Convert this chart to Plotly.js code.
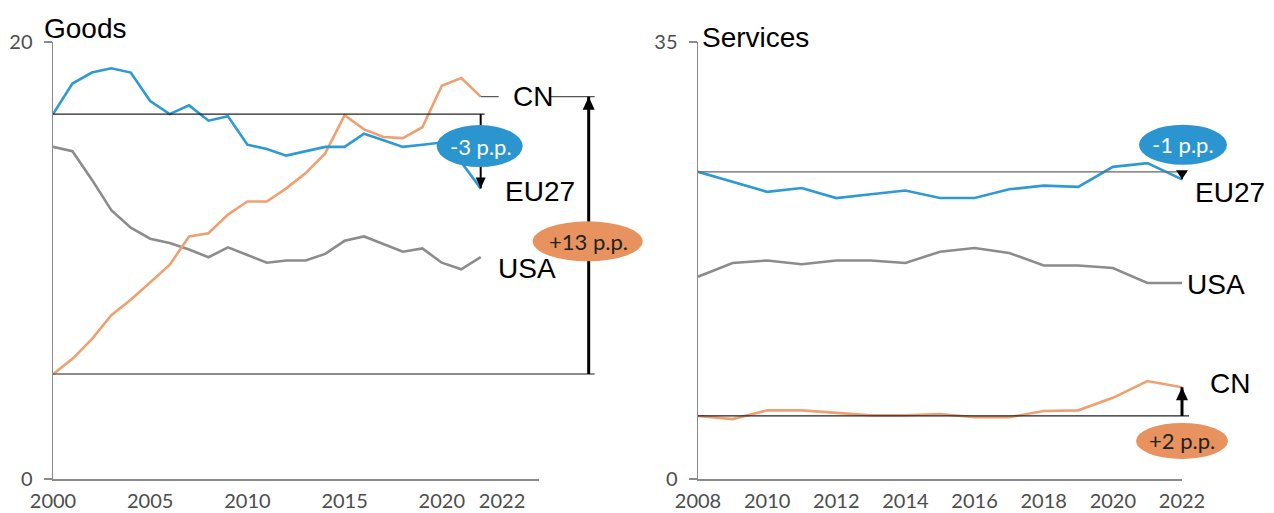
<!DOCTYPE html>
<html><head><meta charset="utf-8">
<script src="https://cdn.plot.ly/plotly-3.0.1.min.js"></script>
<style>html,body{margin:0;padding:0;background:#fff}#chart{width:1274px;height:513px}</style>
</head><body><div id="chart"></div>
<script>
// ---------- data ----------
const goodsYears = [2000,2001,2002,2003,2004,2005,2006,2007,2008,2009,2010,2011,2012,2013,2014,2015,2016,2017,2018,2019,2020,2021,2022];
const goodsEU27  = [16.7,18.1,18.6,18.8,18.6,17.3,16.7,17.1,16.4,16.6,15.3,15.1,14.8,15.0,15.2,15.2,15.8,15.5,15.2,15.3,15.4,14.5,13.3];
const goodsCN    = [4.8,5.5,6.4,7.5,8.2,9.0,9.8,11.1,11.25,12.1,12.7,12.7,13.3,14.0,14.9,16.65,16.0,15.65,15.6,16.1,18.0,18.35,17.5];
const goodsUSA   = [15.2,15.0,13.7,12.3,11.5,11.0,10.8,10.5,10.15,10.6,10.25,9.9,10.0,10.0,10.3,10.9,11.1,10.75,10.4,10.55,9.9,9.6,10.15];

const servYears  = [2008,2009,2010,2011,2012,2013,2014,2015,2016,2017,2018,2019,2020,2021,2022];
const servEU27   = [24.6,23.8,23.0,23.3,22.5,22.8,23.1,22.5,22.5,23.2,23.5,23.4,25.0,25.3,24.0];
const servCN     = [5.05,4.8,5.5,5.5,5.3,5.1,5.1,5.2,4.95,4.95,5.45,5.5,6.5,7.85,7.35];
const servUSA    = [16.2,17.3,17.5,17.2,17.5,17.5,17.3,18.2,18.5,18.1,17.1,17.1,16.9,15.7,15.7];

const goodsTickVals = [2000,2005,2010,2015,2020,2023.1];
const goodsTickText = ['2000','2005','2010','2015','2020','2022'];
const servTickVals  = [2008,2010,2012,2014,2016,2018,2020,2022];
const servTickText  = ['2008','2010','2012','2014','2016','2018','2020','2022'];

const panelTitles = ['Goods','Services'];
const seriesNames = ['EU27','CN','USA'];
const changeLabels = ['-3 p.p.','+13 p.p.','-1 p.p.','+2 p.p.'];

// ---------- styles ----------
const W = 1274, H = 513;
const C_EU = '#2E9AD4', C_CN = '#EFA070', C_US = '#8C8C8C';
const E_EU = '#2B95D0', E_CN = '#E8925F';
const dom1 = [53/W, 539/W], dom2 = [698/W, 1182/W];
const ydom = [(H-479)/H, (H-42)/H];
const range1 = [2000, 2025], range2 = [2008, 2022];
function xp(dom, rng, v){ return dom[0] + (v - rng[0])/(rng[1]-rng[0])*(dom[1]-dom[0]); }
const xp1 = v => xp(dom1, range1, v), xp2 = v => xp(dom2, range2, v);
const last = a => a[a.length-1];

function tr(x, y, color, xa, ya){
  return {x, y, type:'scatter', mode:'lines', line:{color, width:2.6}, xaxis:xa, yaxis:ya, hoverinfo:'skip', showlegend:false};
}
const data = [
  tr(goodsYears, goodsUSA, C_US, 'x', 'y'),
  tr(goodsYears, goodsCN, C_CN, 'x', 'y'),
  tr(goodsYears, goodsEU27, C_EU, 'x', 'y'),
  tr(servYears, servUSA, C_US, 'x2', 'y2'),
  tr(servYears, servCN, C_CN, 'x2', 'y2'),
  tr(servYears, servEU27, C_EU, 'x2', 'y2'),
];

function hline(yref, y, x0, x1, color, width){
  return {type:'line', xref:'paper', yref, x0, x1, y0:y, y1:y, line:{color, width}, layer:'above'};
}
function arrow(yref, x, yFrom, yTo, width, hw, hl){
  const up = yTo > yFrom;
  return [
    {type:'line', xref:'paper', yref, x0:x, x1:x, y0:yFrom, y1:yTo, line:{color:'#000', width}, layer:'above'},
    {type:'path', xref:'paper', yref, xsizemode:'pixel', ysizemode:'pixel', xanchor:x, yanchor:yTo,
     path: up ? `M0,0 L${-hw},${-hl} L${hw},${-hl} Z` : `M0,0 L${-hw},${hl} L${hw},${hl} Z`, fillcolor:'#000', line:{width:0}, layer:'above'}
  ];
}
function ellipse(yref, x, y, yshift, w, h, color){
  return {type:'circle', xref:'paper', yref, xsizemode:'pixel', ysizemode:'pixel', xanchor:x, yanchor:y,
    x0:-w/2, x1:w/2, y0:yshift-h/2, y1:yshift+h/2, fillcolor:color, line:{width:0}, layer:'above'};
}

const gEU0 = goodsEU27[0], gEUe = last(goodsEU27), gCN0 = goodsCN[0], gCNe = last(goodsCN);
const sEU0 = servEU27[0], sEUe = last(servEU27), sCN0 = servCN[0], sCNe = last(servCN);
const gEnd = xp1(last(goodsYears)), sEnd = xp2(last(servYears));
const gArrowX = gEnd + 108/W;

const shapes = [
  // goods
  hline('y', gEU0, dom1[0], gEnd + 4/W, '#222', 1.2),
  hline('y', gCN0, dom1[0], gArrowX + 6/W, '#666', 1.5),
  hline('y', gCNe, gEnd, gEnd + 18/W, '#555', 1.2),
  hline('y', gCNe, gEnd + 70/W, gArrowX + 6/W, '#555', 1.2),
  ...arrow('y', gEnd, gEU0, gEUe, 2, 5, 11),
  ...arrow('y', gArrowX, gCN0, gCNe, 3, 6, 13),
  ellipse('y', gEnd - 1/W, gEU0, -32, 86, 42, E_EU),
  ellipse('y', gArrowX - 1/W, (gCN0+gCNe)/2, -6, 110, 40, E_CN),
  // services
  hline('y2', sEU0, dom2[0], sEnd + 5/W, '#666', 1.3),
  hline('y2', sCN0, dom2[0], sEnd + 7/W, '#222', 1.2),
  ...arrow('y2', sEnd, sEU0, sEUe, 2, 6, 9),
  ...arrow('y2', sEnd, sCN0, sCNe, 3, 6, 13),
  ellipse('y2', sEnd + 1/W, sEU0, 27, 88, 40, E_EU),
  ellipse('y2', sEnd, sCN0, -25, 92, 36, E_CN),
];

const lblFont = {family:'Liberation Sans, Arial, sans-serif', size:28, color:'#000'};
const ppFont = (c) => ({family:'Lato, sans-serif', size:22, color:c});
function lab(text, x, yref, y, xshift, yshift){
  return {text, xref:'paper', yref, x, y, xanchor:'left', yanchor:'middle', xshift, yshift, showarrow:false, font:lblFont};
}
function pp(text, x, yref, y, yshift, color){
  return {text, xref:'paper', yref, x, y, xanchor:'center', yanchor:'middle', yshift, showarrow:false, font:ppFont(color)};
}
const annotations = [
  {text:panelTitles[0], xref:'paper', yref:'paper', x:42/W, y:(H-28)/H, xanchor:'left', yanchor:'middle', showarrow:false, font:lblFont},
  {text:panelTitles[1], xref:'paper', yref:'paper', x:700/W, y:(H-37)/H, xanchor:'left', yanchor:'middle', showarrow:false, font:lblFont},
  lab(seriesNames[1], gEnd, 'y', gCNe, 30, 0),
  lab(seriesNames[0], gEnd, 'y', gEUe, 22, -3),
  lab(seriesNames[2], gEnd, 'y', last(goodsUSA), 15, -11),
  lab(seriesNames[0], sEnd, 'y2', sEUe, 11, -13),
  lab(seriesNames[2], sEnd, 'y2', last(servUSA), 3, -2),
  lab(seriesNames[1], sEnd, 'y2', sCNe, 26, 4),
  pp(changeLabels[0], gEnd, 'y', gEU0, -32, '#fff'),
  pp(changeLabels[1], gArrowX, 'y', (gCN0+gCNe)/2, -6, '#222'),
  pp(changeLabels[2], sEnd + 1/W, 'y2', sEU0, 27, '#fff'),
  pp(changeLabels[3], sEnd, 'y2', sCN0, -25, '#222'),
];

const tickFont = {family:'Lato, sans-serif', size:20, color:'#4d4d4d'};
const xBase = {showline:true, linecolor:'#8a8a8a', linewidth:1.5, ticks:'', showgrid:false, zeroline:false, tickfont:tickFont, fixedrange:true, ticklabelstandoff:3};
const yBase = {showline:true, linecolor:'#8a8a8a', linewidth:1.5, ticks:'outside', ticklen:8, tickcolor:'#8a8a8a', tickwidth:1.5, showgrid:false, zeroline:false, tickfont:tickFont, fixedrange:true, domain:ydom, ticklabelstandoff:7};

const layout = {
  width:W, height:H, margin:{l:0,r:0,t:0,b:0}, paper_bgcolor:'#fff', plot_bgcolor:'rgba(0,0,0,0)',
  xaxis: Object.assign({}, xBase, {domain:dom1, range:range1, tickvals:goodsTickVals, ticktext:goodsTickText, anchor:'y'}),
  yaxis: Object.assign({}, yBase, {range:[0,20], tickvals:[0,20], anchor:'x'}),
  xaxis2: Object.assign({}, xBase, {domain:dom2, range:range2, tickvals:servTickVals, ticktext:servTickText, anchor:'y2'}),
  yaxis2: Object.assign({}, yBase, {range:[0,35], tickvals:[0,35], anchor:'x2'}),
  shapes, annotations, showlegend:false
};
Plotly.newPlot('chart', data, layout, {staticPlot:true, displayModeBar:false});
</script></body></html>
